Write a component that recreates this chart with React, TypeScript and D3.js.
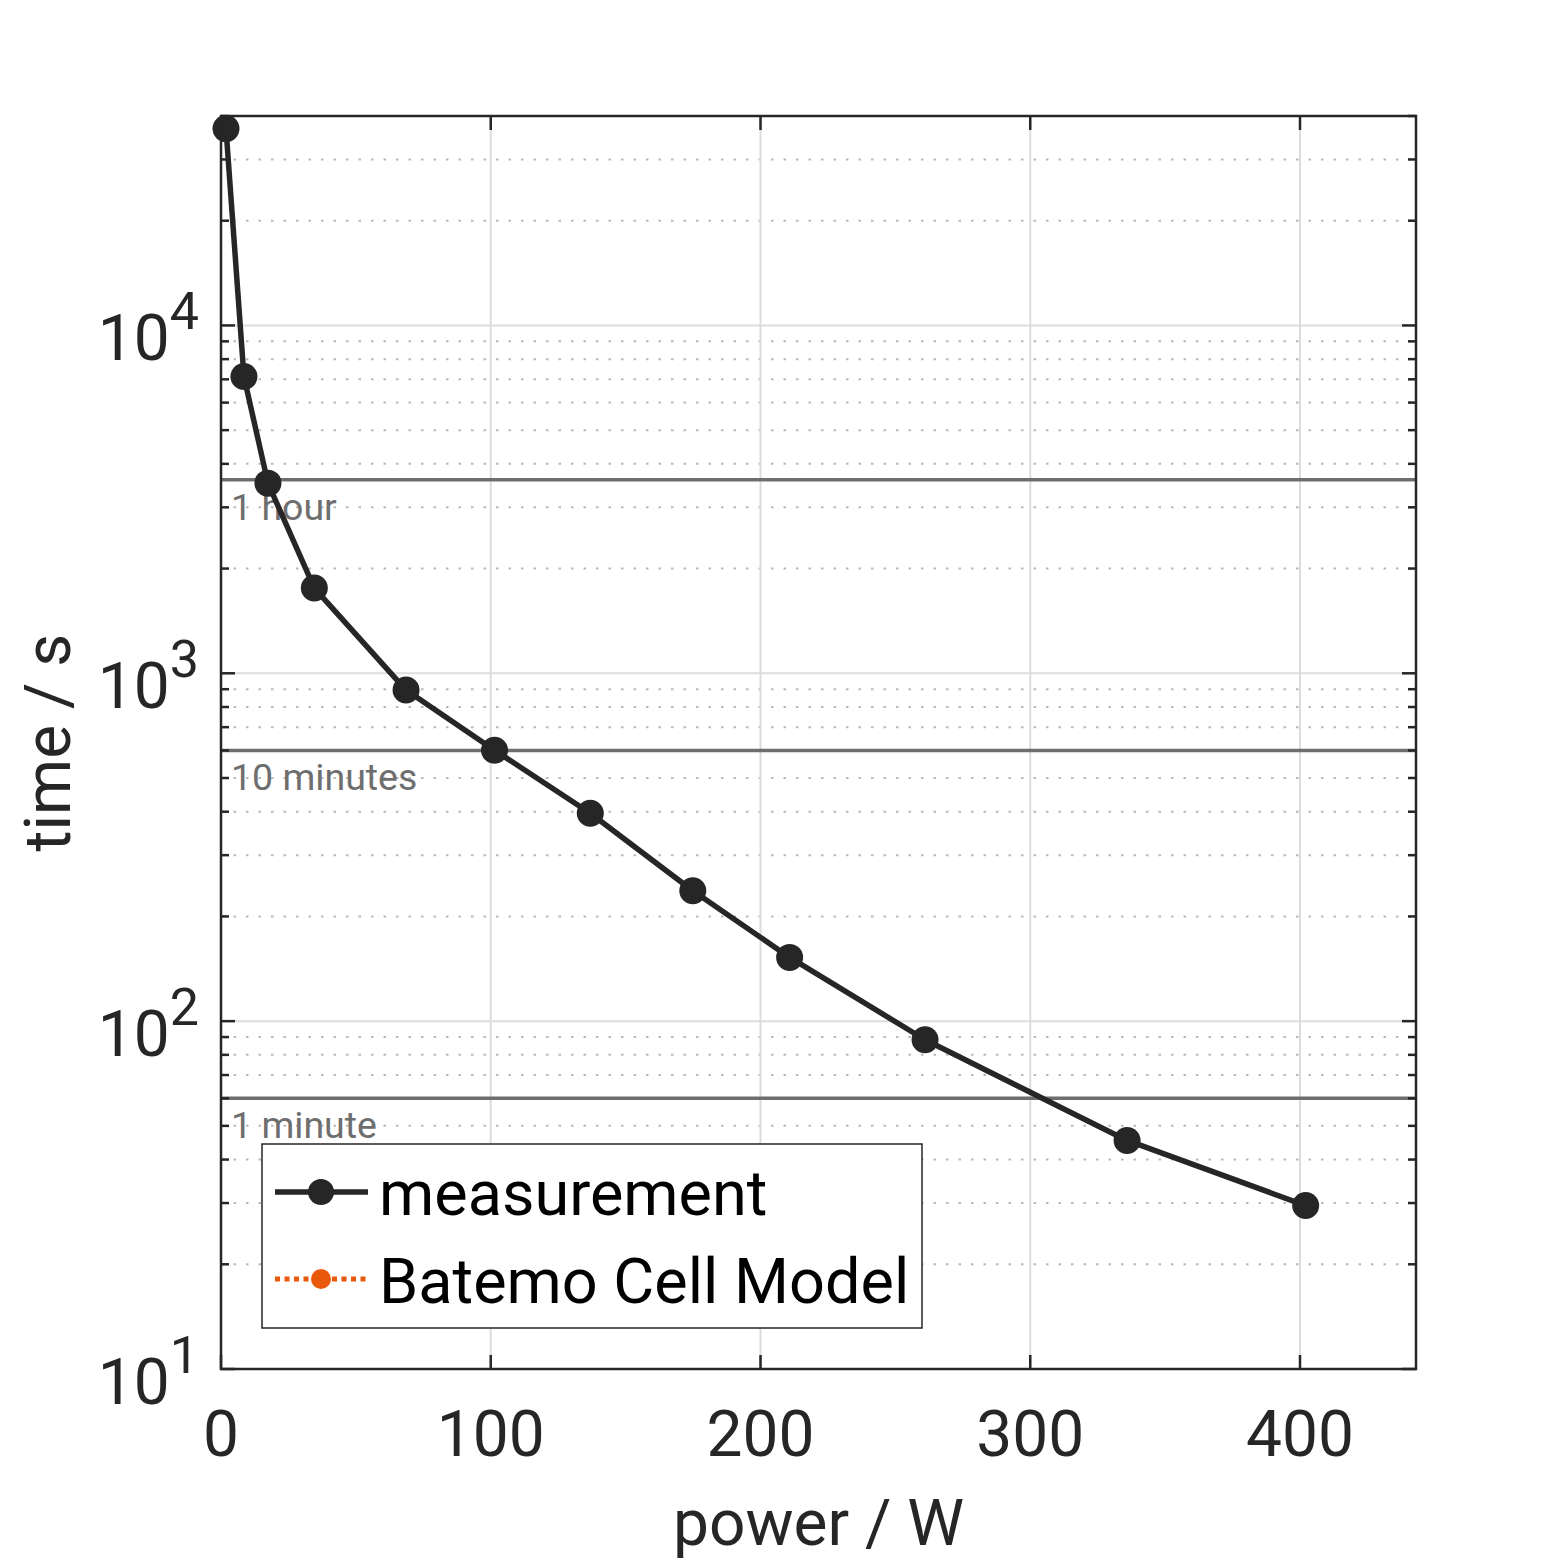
import * as d3 from "d3"

const power = [1.85, 8.5, 17.4, 34.6, 68.6, 101.4, 136.9, 174.9, 210.8, 261.0, 335.9, 402.1]
const time = [36800, 7130, 3520, 1758, 895, 601, 396, 237, 152.5, 88.4, 45.4, 29.5]

const xTicks = [0, 100, 200, 300, 400]
const yDecades = [10, 100, 1000, 10000]
const refTimes = [3600, 600, 60]
const refLabels = ["1 hour", "10 minutes", "1 minute"]
const legendLabels = ["measurement", "Batemo Cell Model"]

const W = 1563
const H = 1563
const left = 221
const right = 1416
const top = 116
const bottom = 1369

const axisColor = "#262626"
const font = "Roboto, 'Noto Sans', sans-serif"

export default function App() {
  const x = d3.scaleLinear().domain([0, 443]).range([left, right])
  const y = d3.scaleLog().domain([10, 40000]).range([bottom, top])

  const minorY: number[] = []
  yDecades.forEach((d) => {
    for (let k = 2; k <= 9; k++) {
      const v = d * k
      if (v <= 40000) minorY.push(v)
    }
  })

  const line = d3
    .line<number>()
    .x((_, i) => x(power[i]))
    .y((d) => y(d))

  return (
    <svg width={W} height={H} style={{ position: "absolute", left: 0, top: 0, background: "#fff" }} fontFamily={font}>
      <rect x={0} y={0} width={W} height={H} fill="#fff" />

      {/* minor dotted grid */}
      {minorY.map((v) => (
        <line key={"mg" + v} x1={left} x2={right} y1={y(v)} y2={y(v)} stroke="#b8b8b8" strokeWidth={2} strokeDasharray="2.5,10" />
      ))}
      {/* major grid */}
      {yDecades.slice(1).map((v) => (
        <line key={"gy" + v} x1={left} x2={right} y1={y(v)} y2={y(v)} stroke="#dcdcdc" strokeWidth={2} />
      ))}
      {xTicks.slice(1).map((v) => (
        <line key={"gx" + v} x1={x(v)} x2={x(v)} y1={top} y2={bottom} stroke="#dcdcdc" strokeWidth={2} />
      ))}

      {/* reference times */}
      {refTimes.map((v, i) => (
        <g key={"ref" + v}>
          <line x1={left} x2={right} y1={y(v)} y2={y(v)} stroke="#6e6e6e" strokeWidth={3.5} />
          <text x={231} y={y(v) + 40} fontSize={37.5} fill="#6e6e6e">
            {refLabels[i]}
          </text>
        </g>
      ))}

      {/* measurement */}
      <path d={line(time) || ""} fill="none" stroke={axisColor} strokeWidth={5.5} strokeLinejoin="round" />
      {time.map((t, i) => (
        <circle key={"pt" + i} cx={x(power[i])} cy={y(t)} r={13.5} fill={axisColor} />
      ))}

      {/* axes box and ticks */}
      <rect x={left} y={top} width={right - left} height={bottom - top} fill="none" stroke={axisColor} strokeWidth={2.5} />
      {xTicks.map((v) => (
        <g key={"xt" + v}>
          <line x1={x(v)} x2={x(v)} y1={bottom} y2={bottom - 14} stroke={axisColor} strokeWidth={2.5} />
          <line x1={x(v)} x2={x(v)} y1={top} y2={top + 14} stroke={axisColor} strokeWidth={2.5} />
          <text x={x(v)} y={1456} fontSize={64} fill={axisColor} textAnchor="middle">
            {v}
          </text>
        </g>
      ))}
      {yDecades.map((v) => (
        <g key={"yt" + v}>
          <line x1={left} x2={left + 14} y1={y(v)} y2={y(v)} stroke={axisColor} strokeWidth={2.5} />
          <line x1={right} x2={right - 14} y1={y(v)} y2={y(v)} stroke={axisColor} strokeWidth={2.5} />
          <text x={199} y={y(v) + 35} fontSize={64} fill={axisColor} textAnchor="end">
            <tspan>10</tspan>
            <tspan dy={-31} fontSize={52}>
              {Math.round(Math.log10(v))}
            </tspan>
          </text>
        </g>
      ))}
      {minorY.map((v) => (
        <g key={"ym" + v}>
          <line x1={left} x2={left + 8} y1={y(v)} y2={y(v)} stroke={axisColor} strokeWidth={2.5} />
          <line x1={right} x2={right - 8} y1={y(v)} y2={y(v)} stroke={axisColor} strokeWidth={2.5} />
        </g>
      ))}

      {/* axis labels */}
      <text x={(left + right) / 2} y={1545} fontSize={64} fill={axisColor} textAnchor="middle">
        power / W
      </text>
      <text transform={`translate(70,${(top + bottom) / 2}) rotate(-90)`} fontSize={64} fill={axisColor} textAnchor="middle">
        time / s
      </text>

      {/* legend */}
      <rect x={262} y={1144} width={660} height={184} fill="#fff" stroke={axisColor} strokeWidth={1.5} />
      <line x1={275} x2={368} y1={1192} y2={1192} stroke={axisColor} strokeWidth={5.5} />
      <circle cx={321} cy={1192} r={13} fill={axisColor} />
      <line x1={275} x2={368} y1={1279} y2={1279} stroke="#e8590c" strokeWidth={5} strokeDasharray="5,4.5" />
      <circle cx={321} cy={1279} r={10} fill="#e8590c" />
      {legendLabels.map((s, i) => (
        <text key={s} x={379} y={1215 + i * 88} fontSize={63} fill="#000">
          {s}
        </text>
      ))}
    </svg>
  )
}
